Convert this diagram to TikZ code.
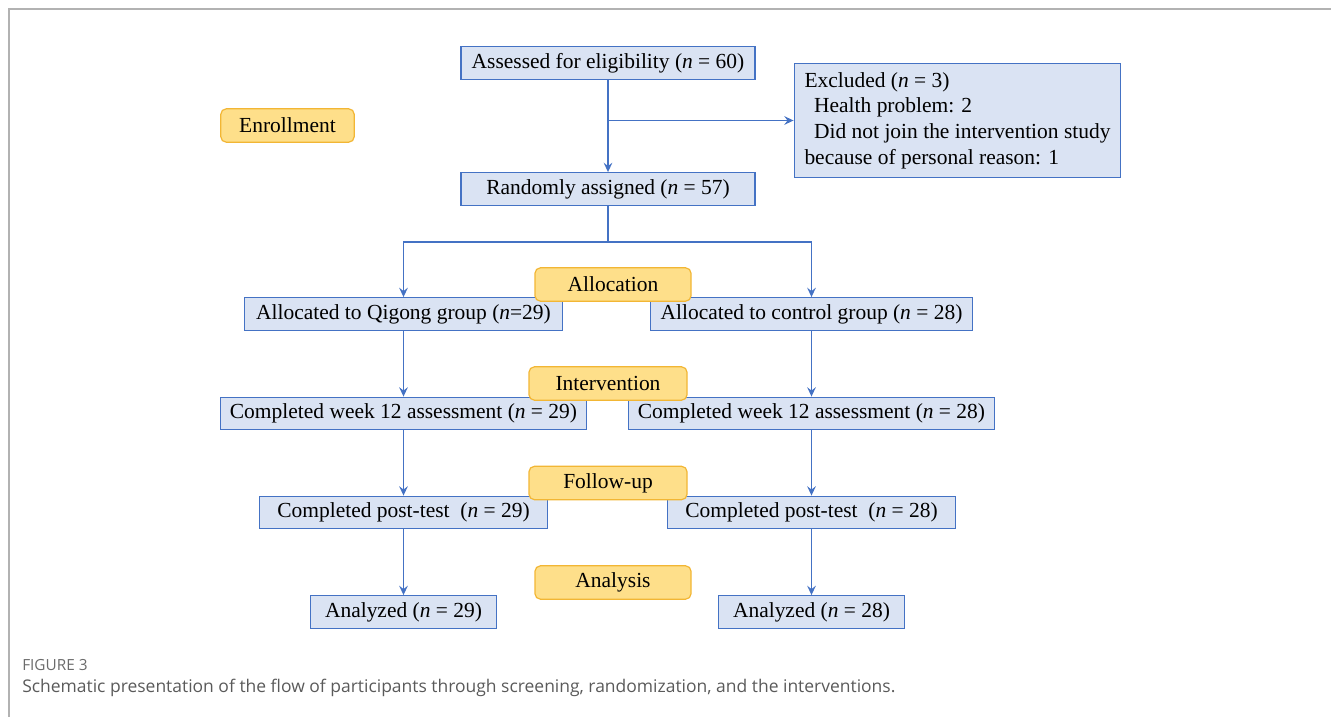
\documentclass[tikz,border=0pt]{standalone}
\usepackage{fontspec}
\setmainfont{Liberation Serif}
\newfontfamily\capfont{Open Sans}
\usepackage{xcolor}
\usepackage{tikz}
\usetikzlibrary{calc, arrows.meta}

\definecolor{boxblue}{HTML}{DAE3F3}
\definecolor{lineblue}{HTML}{4472C4}
\definecolor{stagefill}{HTML}{FEDF8A}
\definecolor{stageline}{HTML}{F2B634}
\definecolor{capgray}{HTML}{5A5A5A}

\begin{document}
\begin{tikzpicture}[
    x=0.75pt, y=-0.75pt,
    box/.style={
        rectangle,
        draw=lineblue,
        line width=0.9pt,
        fill=boxblue,
        minimum height=24.5pt,
        font=\fontsize{16.1}{19.2}\selectfont,
        inner sep=2pt
    },
    stage/.style={
        rectangle,
        draw=stageline,
        fill=stagefill,
        line width=0.9pt,
        rounded corners=4pt,
        minimum width=117pt,
        minimum height=25pt,
        font=\fontsize{16.1}{19.2}\selectfont,
        inner sep=2pt
    },
    arrow/.style={
        -{Stealth[length=7pt, width=6.5pt, inset=2.5pt]},
        line width=1pt,
        color=lineblue
    },
    link/.style={
        line width=1pt,
        color=lineblue
    }
]

\useasboundingbox (0,0) rectangle (1331,717);
\draw[gray!60, line width=1.5pt] (1331,9) -- (9,9) -- (9,717);

% screening
\node[box, minimum width=220.5pt] (assess) at (608,63) {Assessed for eligibility (\textit{n} = 60)};
\node[box, minimum width=245pt, minimum height=85pt, align=left] (excl) at (957.5,120.5) {
    Excluded (\textit{n} = 3)\\
    \hspace{0.45em}Health problem: 2\\
    \hspace{0.45em}Did not join the intervention study\\
    because of personal reason: 1
};
\node[box, minimum width=220.5pt] (rand) at (608,189) {Randomly assigned (\textit{n} = 57)};

\draw[arrow] (assess) -- (rand);
\draw[arrow] (assess.south |- excl.west) -- (excl.west);

% allocation
\node[box, minimum width=239pt] (allocQ) at (403.5,314) {Allocated to Qigong group (\textit{n}=29)};
\node[box, minimum width=241pt] (allocC) at (811.5,314) {Allocated to control group (\textit{n} = 28)};

\coordinate (split) at (608,242);
\draw[link] (rand) -- (split);
\draw[arrow] (split) -| (allocQ);
\draw[arrow] (split) -| (allocC);

\foreach \g/\x/\m in {Q/403.5/29, C/811.5/28} {
    \node[box, minimum width=274pt] (week\g) at (\x,413.5) {Completed week 12 assessment (\textit{n} = \m)};
    \node[box, minimum width=216pt] (post\g) at (\x,512.5) {Completed post-test\ \ (\textit{n} = \m)};
    \node[box, minimum width=140pt] (anal\g) at (\x,612) {Analyzed (\textit{n} = \m)};

    \draw[arrow] (alloc\g) -- (week\g);
    \draw[arrow] (week\g) -- (post\g);
    \draw[arrow] (post\g) -- (anal\g);
}

% stage labels
\node[stage, minimum width=100pt] (enroll) at (287.5,125.5) {Enrollment};
\node[stage] (allocation) at (613,284.5) {Allocation};
\node[stage, minimum width=118.5pt] (interv) at (608,383.5) {Intervention};
\node[stage, minimum width=118.5pt] (follow) at (608,483) {Follow-up};
\node[stage] (analysis) at (613,582.5) {Analysis};

% caption
\node[anchor=base west, inner sep=0pt, font=\capfont\fontsize{11.5}{13}\selectfont, text=capgray!90] (figlabel) at (22,670) {FIGURE 3};
\node[anchor=base west, inner sep=0pt, font=\capfont\fontsize{13.1}{15}\selectfont, text=capgray] (caption) at (22,692) {Schematic presentation of the flow of participants through screening, randomization, and the interventions.};

\end{tikzpicture}
\end{document}
